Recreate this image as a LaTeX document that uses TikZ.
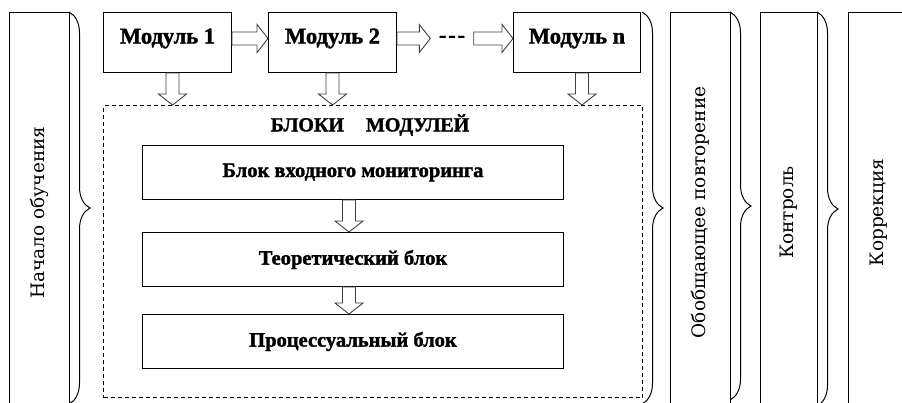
\documentclass[tikz,border=0pt]{standalone}
\usepackage{fontspec}
\setmainfont{Liberation Serif}
\newfontfamily\heavyf[BoldFeatures={FakeBold=1.6}]{Liberation Serif}
\newfontfamily\slabf{DejaVu Serif}
\usetikzlibrary{calc,decorations.pathreplacing}
\begin{document}
\begin{tikzpicture}[x=1pt,y=-1pt,
  box/.style={draw, line width=1pt, inner sep=0pt},
  modbox/.style={box, anchor=north west, minimum width=128pt, text height=31pt, text depth=29pt,
    font=\fontsize{22.5}{26}\heavyf\bfseries},
  blk/.style={box, anchor=north west, minimum width=421pt, minimum height=54pt,
    font=\fontsize{20.5}{24}\heavyf\bfseries},
  col/.style={box, anchor=north west, minimum height=400pt},
  coltext/.style={rotate=90, inner sep=0pt, font=\fontsize{18.5}{22}\slabf},
  brc/.style={decorate, decoration={brace, amplitude=21pt}, line width=1pt},
  hollow/.style={draw=black!75, line width=0.9pt, fill=white, to path={
    ($(\tikztostart)!6.5pt!90:(\tikztotarget)$)
    -- ($(\tikztotarget)!11pt!(\tikztostart)!6.5pt!90:(\tikztotarget)$)
    -- ($(\tikztotarget)!11pt!(\tikztostart)!14pt!90:(\tikztotarget)$)
    -- (\tikztotarget)
    -- ($(\tikztotarget)!11pt!(\tikztostart)!14pt!-90:(\tikztotarget)$)
    -- ($(\tikztotarget)!11pt!(\tikztostart)!6.5pt!-90:(\tikztotarget)$)
    -- ($(\tikztostart)!6.5pt!-90:(\tikztotarget)$) -- cycle}}
]
\useasboundingbox (0,0) rectangle (902,402);
\clip (0,0) rectangle (902,402);
\fill[white] (0,0) rectangle (902,402);

% side columns
\node[col, minimum width=60pt] (c0) at (9,12) {};
\node[coltext] (t0) at (c0) {Начало обучения};
\node[col, minimum width=60pt] (c1) at (670,12) {};
\node[coltext] (t1) at (c1) {Обобщающее повторение};
\node[col, minimum width=57pt] (c2) at (760,12) {};
\node[coltext] (t2) at (c2) {Контроль};
\node[col, minimum width=60pt] (c3) at (848,12) {};
\node[coltext] (t3) at (c3) {Коррекция};

% braces
\coordinate (b0s) at (69,12);  \coordinate (b0e) at (69,404);
\coordinate (b1s) at (642,12); \coordinate (b1e) at (642,404);
\coordinate (b2s) at (730,12); \coordinate (b2e) at (730,400);
\coordinate (b3s) at (817,12); \coordinate (b3e) at (817,406);
\draw[brc] (b0s) -- (b0e);
\draw[brc] (b1s) -- (b1e);
\draw[brc] (b2s) -- (b2e);
\draw[brc] (b3s) -- (b3e);

% modules
\node[modbox] (m1) at (103,12) {Модуль 1};
\node[modbox] (m2) at (268,12) {Модуль 2};
\node[modbox, minimum width=127pt] (mn) at (513,12) {Модуль n};
\node[inner sep=0pt, minimum width=43pt, font=\fontsize{22}{26}\heavyf\bfseries] (dots) at (452,39) {-\hspace{2pt}-\hspace{2pt}-};

\draw[hollow] ([yshift=4pt]m1.east) to ([yshift=4pt]m2.west);
\draw[hollow] ([yshift=4pt]m2.east) to ([yshift=4pt]m2.east -| dots.west);
\draw[hollow] ([yshift=4pt]mn.west -| dots.east) to ([yshift=4pt]mn.west);

% blocks of modules
\node[box, dashed, dash pattern=on 4pt off 3pt, anchor=north west, minimum width=539pt, minimum height=292pt] (blocks) at (103,105) {};
\node[font=\fontsize{20}{24}\heavyf\bfseries] (title) at (370,125) {БЛОКИ\hspace{22pt}МОДУЛЕЙ};

\draw[hollow] ([xshift=5pt]m1.south) to ([xshift=5pt]m1.south |- blocks.north);
\draw[hollow] (m2.south) to (m2.south |- blocks.north);
\draw[hollow] ([xshift=5pt]mn.south) to ([xshift=5pt]mn.south |- blocks.north);

\node[blk] (k1) at (142,145) {Блок входного мониторинга};
\node[blk] (k2) at (142,232) {Теоретический блок};
\node[blk] (k3) at (142,314) {Процессуальный блок};
\draw[hollow] ([xshift=-4pt]k1.south) to ([xshift=-4pt]k2.north);
\draw[hollow] ([xshift=-4pt]k2.south) to ([xshift=-4pt]k3.north);
\end{tikzpicture}
\end{document}
